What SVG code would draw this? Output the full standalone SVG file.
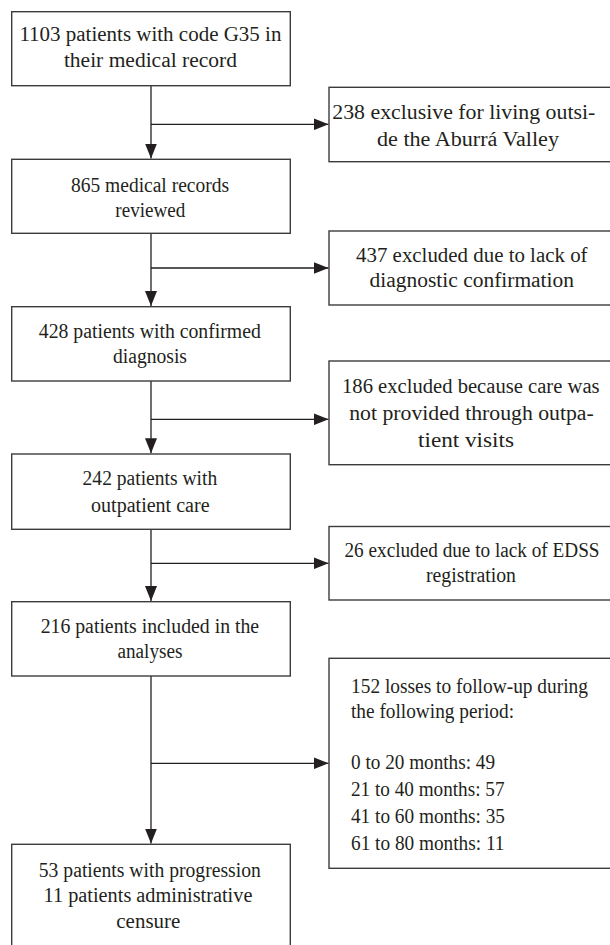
<svg xmlns="http://www.w3.org/2000/svg" width="610" height="945" viewBox="0 0 610 945">
<style>
.box{fill:#fff;stroke:#3c3c3c;stroke-width:1.4}
.t{font-family:"Liberation Serif","Times New Roman",serif;font-size:20px;fill:#231f20}
.c{text-anchor:middle}
.ln{fill:none;stroke:#231f20;stroke-width:1.3}
</style>
<defs>
<marker id="ah" markerUnits="userSpaceOnUse" markerWidth="16" markerHeight="12" refX="15" refY="6" orient="auto" viewBox="0 0 16 12">
<path d="M0,0 L15,6 L0,12 z" fill="#231f20"/>
</marker>
</defs>
<rect width="610" height="945" fill="#fff"/>
<g id="connectors">
<path class="ln" d="M151,85.7 V158.5" marker-end="url(#ah)"/>
<path class="ln" d="M151,124.3 H328.5" marker-end="url(#ah)"/>
<path class="ln" d="M151,233.3 V306" marker-end="url(#ah)"/>
<path class="ln" d="M151,268 H328.5" marker-end="url(#ah)"/>
<path class="ln" d="M151,381 V453.3" marker-end="url(#ah)"/>
<path class="ln" d="M151,419.3 H328.5" marker-end="url(#ah)"/>
<path class="ln" d="M151,529.3 V601" marker-end="url(#ah)"/>
<path class="ln" d="M151,563.3 H328.5" marker-end="url(#ah)"/>
<path class="ln" d="M151,676 V843.6" marker-end="url(#ah)"/>
<path class="ln" d="M151,763.3 H328.5" marker-end="url(#ah)"/>
</g>
<g id="n1">
<rect class="box" x="11.7" y="11.7" width="278.6" height="74"/>
<text class="t c" x="150.4" y="41" textLength="262" lengthAdjust="spacingAndGlyphs">1103 patients with code G35 in</text>
<text class="t c" x="150.4" y="67" textLength="173" lengthAdjust="spacingAndGlyphs">their medical record</text>
</g>
<g id="e1">
<rect class="box" x="329" y="87.3" width="285" height="74.4"/>
<text class="t c" x="463.8" y="118.5" textLength="263" lengthAdjust="spacingAndGlyphs">238 exclusive for living outsi-</text>
<text class="t c" x="468" y="145.5" textLength="182" lengthAdjust="spacingAndGlyphs">de the Aburrá Valley</text>
</g>
<g id="n2">
<rect class="box" x="11.7" y="159.3" width="278.6" height="74"/>
<text class="t c" x="150" y="191.7" textLength="158" lengthAdjust="spacingAndGlyphs">865 medical records</text>
<text class="t c" x="150.3" y="216.7" textLength="70" lengthAdjust="spacingAndGlyphs">reviewed</text>
</g>
<g id="e2">
<rect class="box" x="329" y="231" width="285" height="74"/>
<text class="t c" x="471.8" y="261.7" textLength="231.5" lengthAdjust="spacingAndGlyphs">437 excluded due to lack of</text>
<text class="t c" x="471.8" y="287.3" textLength="204.4" lengthAdjust="spacingAndGlyphs">diagnostic confirmation</text>
</g>
<g id="n3">
<rect class="box" x="11.7" y="306.7" width="278.6" height="74.3"/>
<text class="t c" x="149.8" y="338" textLength="222" lengthAdjust="spacingAndGlyphs">428 patients with confirmed</text>
<text class="t c" x="150" y="363" textLength="74" lengthAdjust="spacingAndGlyphs">diagnosis</text>
</g>
<g id="e3">
<rect class="box" x="329" y="361" width="285" height="103.7"/>
<text class="t c" x="470.8" y="393.3" textLength="257.5" lengthAdjust="spacingAndGlyphs">186 excluded because care was</text>
<text class="t c" x="471.5" y="420" textLength="244.5" lengthAdjust="spacingAndGlyphs">not provided through outpa-</text>
<text class="t c" x="466" y="446.7" textLength="96" lengthAdjust="spacingAndGlyphs">tient visits</text>
</g>
<g id="n4">
<rect class="box" x="11.7" y="454" width="278.6" height="75.3"/>
<text class="t c" x="149.9" y="485" textLength="134.6" lengthAdjust="spacingAndGlyphs">242 patients with</text>
<text class="t c" x="150.3" y="511.7" textLength="118.5" lengthAdjust="spacingAndGlyphs">outpatient care</text>
</g>
<g id="e4">
<rect class="box" x="329" y="526.5" width="285" height="73.5"/>
<text class="t c" x="472" y="556.7" textLength="255" lengthAdjust="spacingAndGlyphs">26 excluded due to lack of EDSS</text>
<text class="t c" x="471" y="581.7" textLength="90" lengthAdjust="spacingAndGlyphs">registration</text>
</g>
<g id="n5">
<rect class="box" x="11.7" y="601.7" width="278.6" height="74.3"/>
<text class="t c" x="149.9" y="632.7" textLength="218.5" lengthAdjust="spacingAndGlyphs">216 patients included in the</text>
<text class="t c" x="150" y="658.3" textLength="65" lengthAdjust="spacingAndGlyphs">analyses</text>
</g>
<g id="e5">
<rect class="box" x="329" y="658.3" width="285" height="210"/>
<text class="t" x="351" y="693.3" textLength="237" lengthAdjust="spacingAndGlyphs">152 losses to follow-up during</text>
<text class="t" x="351" y="718.3" textLength="163" lengthAdjust="spacingAndGlyphs">the following period:</text>
<text class="t" x="351" y="769" textLength="144" lengthAdjust="spacingAndGlyphs">0 to 20 months: 49</text>
<text class="t" x="351" y="796" textLength="153.5" lengthAdjust="spacingAndGlyphs">21 to 40 months: 57</text>
<text class="t" x="351" y="823" textLength="154" lengthAdjust="spacingAndGlyphs">41 to 60 months: 35</text>
<text class="t" x="351" y="850" textLength="153.5" lengthAdjust="spacingAndGlyphs">61 to 80 months: 11</text>
</g>
<g id="n6">
<rect class="box" x="11.7" y="844.3" width="278.6" height="120"/>
<text class="t c" x="149.8" y="876.7" textLength="222" lengthAdjust="spacingAndGlyphs">53 patients with progression</text>
<text class="t c" x="148" y="901.7" textLength="208.8" lengthAdjust="spacingAndGlyphs">11 patients administrative</text>
<text class="t c" x="148.3" y="928.3" textLength="64" lengthAdjust="spacingAndGlyphs">censure</text>
</g>
</svg>
